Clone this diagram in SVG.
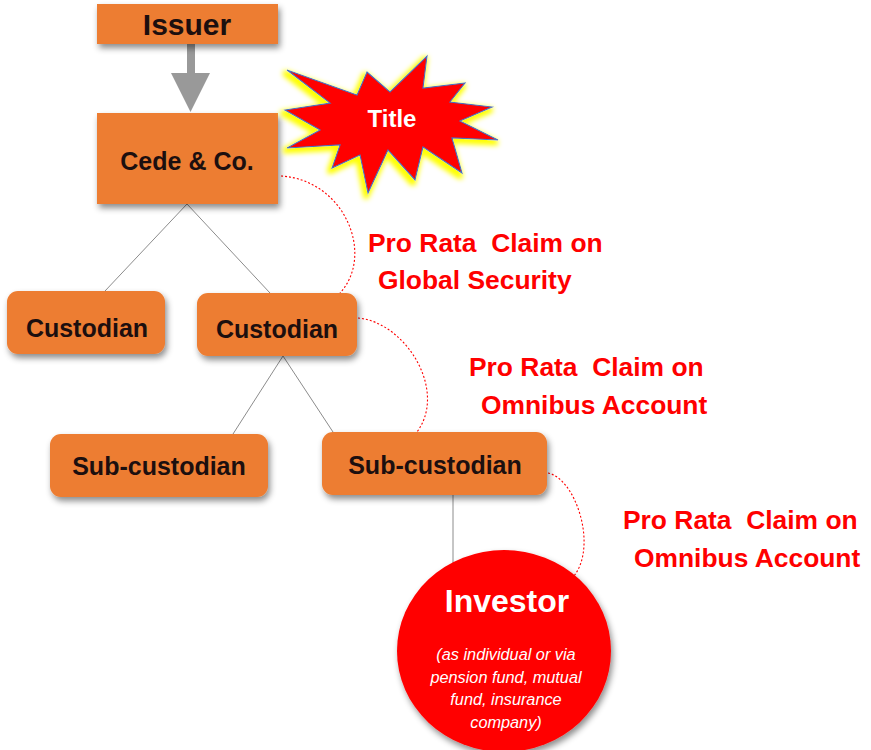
<svg xmlns="http://www.w3.org/2000/svg" width="871" height="750" viewBox="0 0 871 750">
  <defs>
    <filter id="shadow" x="-20%" y="-20%" width="150%" height="160%">
      <feDropShadow dx="2" dy="4" stdDeviation="3" flood-color="#000" flood-opacity="0.45"/>
    </filter>
    <filter id="glow" x="-20%" y="-20%" width="140%" height="140%">
      <feMorphology in="SourceAlpha" operator="dilate" radius="2" result="d"/>
      <feOffset in="d" dx="-2" dy="3" result="o"/>
      <feGaussianBlur in="o" stdDeviation="2.5" result="b"/>
      <feFlood flood-color="#FFFF00"/>
      <feComposite in2="b" operator="in" result="g"/>
      <feMerge><feMergeNode in="g"/><feMergeNode in="SourceGraphic"/></feMerge>
    </filter>
  </defs>
  <style>
    .box { fill: #ED7D31; filter: url(#shadow); }
    .lbl { font-family: "Liberation Sans", Arial, sans-serif; font-weight: bold; fill: #1c0f0f; text-anchor: middle; }
    .claim { font-family: "Liberation Sans", Arial, sans-serif; font-weight: bold; fill: #FF0000; font-size: 26.4px; white-space: pre; }
    .tree { stroke: #8c8c8c; stroke-width: 1; fill: none; }
    .dash { stroke: #FF0000; stroke-width: 1.1; stroke-dasharray: 2 2; fill: none; }
    .inv { font-family: "Liberation Sans", Arial, sans-serif; fill: #ffffff; text-anchor: middle; }
  </style>

  <g id="connectors">
    <rect x="187" y="44" width="8" height="30" fill="#999999"/>
    <polygon points="171,73 210,73 190.5,112" fill="#999999"/>
    <line class="tree" x1="187" y1="204" x2="105" y2="291"/>
    <line class="tree" x1="187" y1="204" x2="270" y2="293"/>
    <line class="tree" x1="283" y1="356" x2="233" y2="434"/>
    <line class="tree" x1="283" y1="356" x2="333" y2="432"/>
    <line class="tree" x1="453" y1="495" x2="453" y2="563"/>
    <path class="dash" d="M281,176 C345,180 375,255 340,293"/>
    <path class="dash" d="M358,318 C405,322 448,390 417,432"/>
    <path class="dash" d="M548,473 C575,478 598,545 574,576"/>
  </g>

  <g id="issuer">
    <rect class="box" x="97" y="4" width="181" height="40"/>
    <text class="lbl" x="187" y="35" font-size="30">Issuer</text>
  </g>

  <g id="cede">
    <rect class="box" x="97" y="113" width="181" height="91"/>
    <text class="lbl" x="187" y="170" font-size="25">Cede &amp; Co.</text>
  </g>

  <g id="title">
    <polygon filter="url(#glow)" fill="#FF0000" stroke="#4472C4" stroke-width="1.2" stroke-linejoin="miter"
      points="287,70 357,95 367,72 390,92 427,56 423,88 465,83 450,102 492,107 460,121 498,140 452,138 462,173 423,147 415,180 388,150 368,193 360,155 332,168 340,145 287,148 320,130 285,110 330,103"/>
    <text x="392" y="127" font-family="Liberation Sans, Arial, sans-serif" font-weight="bold" font-size="24" fill="#ffffff" text-anchor="middle">Title</text>
  </g>

  <g id="custodian1">
    <rect class="box" x="7" y="291" width="158" height="63" rx="11"/>
    <text class="lbl" x="87" y="337" font-size="25">Custodian</text>
  </g>

  <g id="custodian2">
    <rect class="box" x="197" y="293" width="160" height="63" rx="11"/>
    <text class="lbl" x="277" y="338" font-size="25">Custodian</text>
  </g>

  <g id="subcustodian1">
    <rect class="box" x="50" y="434" width="218" height="63" rx="11"/>
    <text class="lbl" x="159" y="475" font-size="25">Sub-custodian</text>
  </g>

  <g id="subcustodian2">
    <rect class="box" x="322" y="432" width="225" height="63" rx="11"/>
    <text class="lbl" x="435" y="474" font-size="25">Sub-custodian</text>
  </g>

  <g id="investor">
    <ellipse cx="504" cy="651" rx="107" ry="101" fill="#FF0000" filter="url(#shadow)"/>
    <text class="inv" x="507" y="612" font-size="32" font-weight="bold">Investor</text>
    <g font-style="italic" font-size="16.3">
      <text class="inv" x="506" y="660">(as individual or via</text>
      <text class="inv" x="506" y="683">pension fund, mutual</text>
      <text class="inv" x="506" y="705">fund, insurance</text>
      <text class="inv" x="506" y="728">company)</text>
    </g>
  </g>

  <g id="label-global">
    <text class="claim" x="368" y="252">Pro Rata  Claim on</text>
    <text class="claim" x="378" y="289">Global Security</text>
  </g>
  <g id="label-omnibus1">
    <text class="claim" x="469" y="376">Pro Rata  Claim on</text>
    <text class="claim" x="481" y="414">Omnibus Account</text>
  </g>
  <g id="label-omnibus2">
    <text class="claim" x="623" y="529">Pro Rata  Claim on</text>
    <text class="claim" x="634" y="567">Omnibus Account</text>
  </g>
</svg>
